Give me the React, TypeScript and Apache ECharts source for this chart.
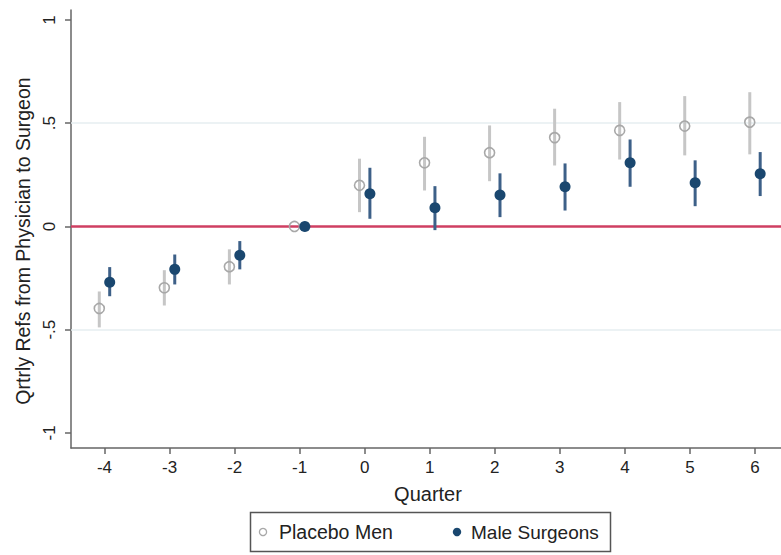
import React, { useEffect, useRef } from "react";
import * as echarts from "echarts";

const quarters = [-4, -3, -2, -1, 0, 1, 2, 3, 4, 5, 6];
const placeboEst = [-0.397, -0.297, -0.195, 0, 0.199, 0.308, 0.357, 0.43, 0.465, 0.486, 0.505];
const placeboLo = [-0.489, -0.383, -0.281, 0, 0.069, 0.174, 0.219, 0.295, 0.324, 0.344, 0.349];
const placeboHi = [-0.315, -0.212, -0.111, 0, 0.328, 0.434, 0.489, 0.57, 0.602, 0.631, 0.65];
const surgeonEst = [-0.27, -0.208, -0.14, 0, 0.158, 0.09, 0.152, 0.192, 0.308, 0.212, 0.255];
const surgeonLo = [-0.338, -0.281, -0.208, 0, 0.037, -0.018, 0.045, 0.077, 0.192, 0.098, 0.147];
const surgeonHi = [-0.197, -0.136, -0.071, 0, 0.284, 0.195, 0.257, 0.305, 0.421, 0.32, 0.36];
const yTicks = [-1, -0.5, 0, 0.5, 1];
const seriesNames = ["Placebo Men", "Male Surgeons"];

const FONT = "Liberation Sans, Arial, Helvetica, sans-serif";
const NAVY = "#1a476f";
const NAVY_CI = "#3d6088";
const GRAY = "#a8a8a8";
const GRAY_CI = "#c6c6c6";
const OFFSET = 0.08;

function stataFmt(v: number): string {
  if (Math.abs(v) < 1e-9) return "0";
  const s = String(Math.abs(v)).replace(/^0\./, ".");
  return (v < 0 ? "-" : "") + s;
}

function ciSeries(name: string, lo: number[], hi: number[], dx: number, color: string, extra: any = {}) {
  return {
    type: "custom",
    name: name + " CI",
    silent: true,
    z: 2,
    data: quarters.map((q, i) => [q + dx, lo[i], hi[i]]),
    encode: { x: 0, y: [1, 2] },
    renderItem: (params: any, api: any) => {
      const x = api.value(0);
      const a = api.coord([x, api.value(1)]);
      const b = api.coord([x, api.value(2)]);
      return {
        type: "line",
        shape: { x1: a[0], y1: a[1], x2: b[0], y2: b[1] },
        style: { stroke: color, lineWidth: 3 },
      };
    },
    ...extra,
  };
}

export default function App() {
  const ref = useRef<HTMLDivElement>(null);
  useEffect(() => {
    if (!ref.current) return;
    const chart = echarts.init(ref.current, null, { renderer: "svg" });
    const option: any = {
      animation: false,
      backgroundColor: "#ffffff",
      textStyle: { fontFamily: FONT },
      grid: { left: 71, right: 0, top: 10, bottom: 107, containLabel: false },
      xAxis: {
        type: "value",
        min: -4.515,
        max: 6.4,
        axisLine: { show: true, onZero: false, lineStyle: { color: "#666", width: 1.5 } },
        axisTick: { show: true, customValues: quarters, length: 6, lineStyle: { color: "#666", width: 1.5 } },
        axisLabel: { customValues: quarters, margin: 11, fontSize: 17, color: "#222", fontFamily: FONT, formatter: (v: number) => String(v) },
        splitLine: { show: false },
      },
      yAxis: {
        type: "value",
        min: -1.073,
        max: 1.048,
        axisLine: { show: true, onZero: false, lineStyle: { color: "#666", width: 1.5 } },
        axisTick: { show: true, customValues: yTicks, length: 6, lineStyle: { color: "#666", width: 1.5 } },
        axisLabel: { customValues: yTicks, rotate: 90, margin: 13, fontSize: 17, color: "#222", fontFamily: FONT, formatter: stataFmt },
        splitLine: { show: false },
      },
      series: [
        ciSeries(seriesNames[0], placeboLo, placeboHi, -OFFSET, GRAY_CI, {
          markLine: {
            silent: true,
            symbol: "none",
            label: { show: false },
            z: 1,
            data: [
              { yAxis: 0.5, lineStyle: { color: "#e6eef0", width: 1.5, type: "solid" } },
              { yAxis: -0.5, lineStyle: { color: "#e6eef0", width: 1.5, type: "solid" } },
              { yAxis: 0, lineStyle: { color: "#cf3f62", width: 2.5, type: "solid" } },
            ],
          },
        }),
        ciSeries(seriesNames[1], surgeonLo, surgeonHi, OFFSET, NAVY_CI),
        {
          type: "scatter",
          name: seriesNames[0],
          z: 5,
          symbol: "circle",
          symbolSize: 10,
          data: quarters.map((q, i) => [q - OFFSET, placeboEst[i]]),
          itemStyle: { color: "rgba(255,255,255,0)", borderColor: GRAY, borderWidth: 1.6, opacity: 1 },
        },
        {
          type: "scatter",
          name: seriesNames[1],
          z: 5,
          symbol: "circle",
          symbolSize: 11,
          data: quarters.map((q, i) => [q + OFFSET, surgeonEst[i]]),
          itemStyle: { color: NAVY, opacity: 1 },
        },
      ],
      graphic: [
        {
          type: "text",
          x: 428,
          y: 494,
          style: { text: "Quarter", fontSize: 20, fill: "#222", fontFamily: FONT, align: "center", verticalAlign: "middle" },
        },
        {
          type: "text",
          x: 23,
          y: 241,
          rotation: Math.PI / 2,
          style: { text: "Qrtrly Refs from Physician to Surgeon", fontSize: 19.5, fill: "#222", fontFamily: FONT, align: "center", verticalAlign: "middle" },
        },
        {
          type: "rect",
          shape: { x: 250.5, y: 512.5, width: 360, height: 39 },
          style: { fill: "#fff", stroke: "#555", lineWidth: 1.5 },
        },
        {
          type: "circle",
          shape: { cx: 263, cy: 532, r: 3.6 },
          style: { fill: "none", stroke: GRAY, lineWidth: 1.3 },
        },
        {
          type: "text",
          x: 279,
          y: 532,
          style: { text: seriesNames[0], fontSize: 19.5, fill: "#222", fontFamily: FONT, align: "left", verticalAlign: "middle" },
        },
        {
          type: "circle",
          shape: { cx: 457, cy: 532, r: 4.2 },
          style: { fill: NAVY },
        },
        {
          type: "text",
          x: 471,
          y: 532,
          style: { text: seriesNames[1], fontSize: 19, fill: "#222", fontFamily: FONT, align: "left", verticalAlign: "middle" },
        },
      ],
    };
    chart.setOption(option);
    return () => chart.dispose();
  }, []);
  return (
    <div
      ref={ref}
      style={{ position: "fixed", left: 0, top: 0, width: 781, height: 555, background: "#fff" }}
    />
  );
}
